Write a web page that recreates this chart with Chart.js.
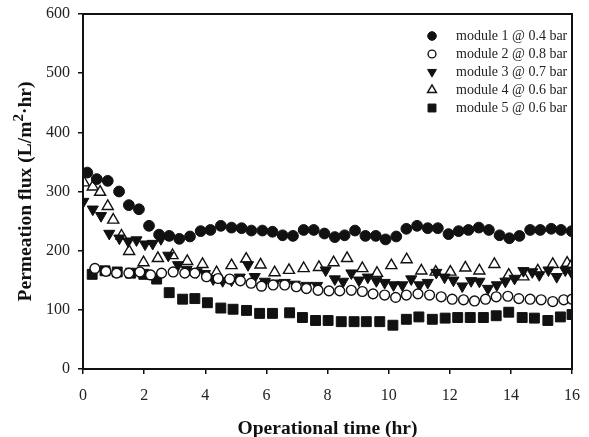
<!DOCTYPE html>
<html>
<head>
<meta charset="utf-8">
<script src="https://cdn.jsdelivr.net/npm/chart.js@4"></script>
<style>
  html, body { margin: 0; padding: 0; background: #fff; }
  #wrap { width: 589px; height: 437px; }
</style>
</head>
<body>
<div id="wrap"><canvas id="fluxChart" width="589" height="437"></canvas></div>
<script>
// operational time (hr) and flux (L/m2.hr) for each module
const tempo1 = [0.14, 0.45, 0.81, 1.18, 1.5, 1.83, 2.16, 2.49, 2.82, 3.15, 3.5, 3.85, 4.17, 4.51, 4.86, 5.19, 5.51, 5.87, 6.2, 6.53, 6.87, 7.22, 7.55, 7.9, 8.24, 8.56, 8.9, 9.24, 9.58, 9.9, 10.25, 10.58, 10.93, 11.28, 11.61, 11.96, 12.29, 12.61, 12.95, 13.28, 13.63, 13.95, 14.28, 14.63, 14.96, 15.32, 15.64, 15.99];
const fluxo1 = [332, 321, 318, 300, 277, 270, 242, 227, 225, 220, 224, 233, 235, 242, 239, 238, 234, 234, 232, 226, 225, 235, 235, 229, 223, 226, 234, 225, 225, 219, 224, 237, 242, 238, 238, 228, 233, 235, 239, 235, 226, 221, 225, 235, 235, 237, 235, 233];

const tempo2 = [0.39, 0.75, 1.1, 1.5, 1.86, 2.21, 2.57, 2.95, 3.33, 3.66, 4.04, 4.42, 4.8, 5.15, 5.5, 5.84, 6.22, 6.6, 6.98, 7.31, 7.69, 8.05, 8.4, 8.78, 9.14, 9.49, 9.87, 10.23, 10.58, 10.96, 11.34, 11.72, 12.08, 12.45, 12.81, 13.17, 13.52, 13.9, 14.26, 14.63, 14.99, 15.37, 15.73, 16.0];
const fluxo2 = [170, 165, 162, 162, 164, 159, 162, 164, 162, 162, 156, 153, 152, 149, 145, 140, 142, 142, 139, 136, 133, 132, 132, 133, 131, 127, 125, 121, 125, 127, 125, 122, 118, 117, 115, 118, 122, 123, 119, 118, 117, 114, 117, 118];

const tempo3 = [0.01, 0.32, 0.59, 0.86, 1.19, 1.48, 1.75, 2.03, 2.28, 2.55, 2.79, 3.11, 3.39, 3.72, 3.99, 4.26, 4.57, 4.86, 5.13, 5.4, 5.62, 5.95, 6.27, 6.6, 6.93, 7.31, 7.66, 7.94, 8.24, 8.51, 8.78, 9.03, 9.32, 9.6, 9.87, 10.16, 10.45, 10.74, 11.01, 11.28, 11.56, 11.83, 12.12, 12.41, 12.7, 12.97, 13.25, 13.54, 13.82, 14.12, 14.41, 14.7, 14.93, 15.23, 15.5, 15.78, 16.0];
const fluxo3 = [283, 270, 259, 229, 221, 216, 218, 211, 212, 220, 192, 176, 168, 164, 161, 152, 149, 150, 155, 176, 156, 148, 145, 146, 143, 141, 141, 167, 152, 148, 162, 150, 155, 149, 146, 142, 142, 152, 142, 146, 163, 155, 150, 140, 149, 148, 136, 142, 148, 153, 166, 164, 159, 167, 156, 167, 162];

const tempo4 = [0.03, 0.32, 0.56, 0.81, 0.99, 1.26, 1.51, 1.98, 2.45, 2.93, 3.41, 3.91, 4.37, 4.86, 5.34, 5.81, 6.27, 6.74, 7.22, 7.72, 8.2, 8.64, 9.14, 9.62, 10.09, 10.59, 11.07, 11.54, 12.02, 12.51, 12.97, 13.46, 13.93, 14.41, 14.88, 15.37, 15.84, 16.0];
const fluxo4 = [315, 308, 299, 275, 252, 225, 199, 180, 187, 192, 182, 177, 163, 175, 186, 176, 163, 167, 170, 172, 180, 187, 170, 162, 175, 185, 166, 164, 164, 171, 166, 177, 159, 156, 166, 177, 179, 176];

const tempo5 = [0.3, 0.72, 1.12, 1.56, 1.99, 2.41, 2.82, 3.26, 3.66, 4.07, 4.51, 4.91, 5.35, 5.78, 6.2, 6.76, 7.18, 7.61, 8.02, 8.45, 8.87, 9.27, 9.71, 10.14, 10.58, 10.99, 11.43, 11.85, 12.26, 12.67, 13.1, 13.52, 13.93, 14.37, 14.77, 15.21, 15.62, 16.0];
const fluxo5 = [160, 166, 164, 162, 160, 152, 129, 118, 119, 112, 103, 101, 99, 94, 94, 95, 87, 82, 82, 80, 80, 80, 80, 74, 84, 88, 84, 86, 87, 87, 87, 90, 96, 87, 86, 82, 88, 92];

const nomesModulos = ['module 1 @ 0.4 bar', 'module 2 @ 0.8 bar', 'module 3 @ 0.7 bar', 'module 4 @ 0.6 bar', 'module 5 @ 0.6 bar'];
const ticksX = [0, 2, 4, 6, 8, 10, 12, 14, 16];
const ticksY = [0, 100, 200, 300, 400, 500, 600];

function pontos(tempos, fluxos) {
  return tempos.map((t, i) => ({ x: t, y: fluxos[i] }));
}

const preto = '#111';
const serif = "'Liberation Serif', 'Times New Roman', serif";

const datasets = [
  { label: nomesModulos[0], data: pontos(tempo1, fluxo1), pointStyle: 'circle', pointRadius: 5.4, backgroundColor: preto, borderColor: preto, borderWidth: 1 },
  { label: nomesModulos[1], data: pontos(tempo2, fluxo2), pointStyle: 'circle', pointRadius: 4.9, backgroundColor: '#fff', borderColor: preto, borderWidth: 1.4 },
  { label: nomesModulos[2], data: pontos(tempo3, fluxo3), pointStyle: 'triangle', rotation: 180, pointRadius: 6.4, backgroundColor: preto, borderColor: preto, borderWidth: 1 },
  { label: nomesModulos[3], data: pontos(tempo4, fluxo4), pointStyle: 'triangle', pointRadius: 6.4, backgroundColor: '#fff', borderColor: preto, borderWidth: 1.4 },
  { label: nomesModulos[4], data: pontos(tempo5, fluxo5), pointStyle: 'rect', pointRadius: 7, backgroundColor: preto, borderColor: preto, borderWidth: 1 }
];
datasets.forEach(d => { d.showLine = false; d.pointHoverRadius = d.pointRadius; });

// box round the plot area
const moldura = {
  id: 'moldura',
  afterDatasetsDraw(chart) {
    const a = chart.chartArea;
    const ctx = chart.ctx;
    ctx.save();
    ctx.strokeStyle = preto;
    ctx.lineWidth = 2;
    ctx.strokeRect(a.left, a.top, a.right - a.left, a.bottom - a.top);
    ctx.restore();
  }
};

// y title with a real superscript 2
const tituloY = {
  id: 'tituloY',
  afterDraw(chart) {
    const a = chart.chartArea;
    const ctx = chart.ctx;
    const partes = [['Permeation flux (L/m', 19.5, 0], ['2', 15, -7], ['·hr)', 19.5, 0]];
    ctx.save();
    ctx.translate(25, (a.top + a.bottom) / 2);
    ctx.rotate(-Math.PI / 2);
    ctx.fillStyle = '#111';
    ctx.textBaseline = 'middle';
    let total = 0;
    partes.forEach(p => { ctx.font = 'bold ' + p[1] + 'px ' + serif; total += ctx.measureText(p[0]).width; });
    let x = -total / 2;
    partes.forEach(p => {
      ctx.font = 'bold ' + p[1] + 'px ' + serif;
      ctx.fillText(p[0], x, p[2] + 1);
      x += ctx.measureText(p[0]).width;
    });
    ctx.restore();
  }
};

// legend in the top right corner of the plot
const legenda = {
  id: 'legenda',
  afterDraw(chart) {
    const ctx = chart.ctx;
    ctx.save();
    ctx.font = '14px ' + serif;
    ctx.textBaseline = 'middle';
    chart.data.datasets.forEach((d, i) => {
      const y = 36 + i * 18;
      ctx.fillStyle = d.backgroundColor;
      ctx.strokeStyle = d.borderColor;
      ctx.lineWidth = d.borderWidth;
      Chart.helpers.drawPoint(ctx, { pointStyle: d.pointStyle, rotation: d.rotation || 0, radius: d.pointRadius * 0.8, borderWidth: d.borderWidth }, 432, y);
      ctx.fillStyle = '#222';
      ctx.fillText(d.label, 456, y);
    });
    ctx.restore();
  }
};

new Chart(document.getElementById('fluxChart'), {
  type: 'scatter',
  data: { datasets: datasets },
  options: {
    responsive: false,
    animation: false,
    devicePixelRatio: 1,
    layout: { padding: { top: 14, right: 17, left: 0, bottom: 0 } },
    plugins: { legend: { display: false }, tooltip: { enabled: false } },
    scales: {
      x: {
        type: 'linear',
        min: 0,
        max: 16,
        afterBuildTicks: s => { s.ticks = ticksX.map(v => ({ value: v })); },
        afterFit: s => { s.height = 68; s.paddingLeft = 0; s.paddingRight = 0; },
        ticks: { font: { family: serif, size: 16 }, color: '#222', padding: 12, maxRotation: 0 },
        grid: { display: true, drawOnChartArea: false, drawTicks: true, tickLength: 5, color: preto, lineWidth: 1.5 },
        border: { display: true, color: preto, width: 2 },
        title: { display: true, text: 'Operational time (hr)', font: { family: serif, size: 19.5, weight: 'bold', lineHeight: 0.85 }, color: '#111', padding: { top: 0, bottom: 0 } }
      },
      y: {
        type: 'linear',
        min: 0,
        max: 600,
        afterBuildTicks: s => { s.ticks = ticksY.map(v => ({ value: v })); },
        afterFit: s => { s.width = 83; s.paddingTop = 0; s.paddingBottom = 0; },
        ticks: { font: { family: serif, size: 16 }, color: '#222', padding: 8 },
        grid: { display: true, drawOnChartArea: false, drawTicks: true, tickLength: 5, color: preto, lineWidth: 1.5 },
        border: { display: true, color: preto, width: 2 },
        title: { display: false }
      }
    }
  },
  plugins: [moldura, tituloY, legenda]
});
</script>
</body>
</html>
